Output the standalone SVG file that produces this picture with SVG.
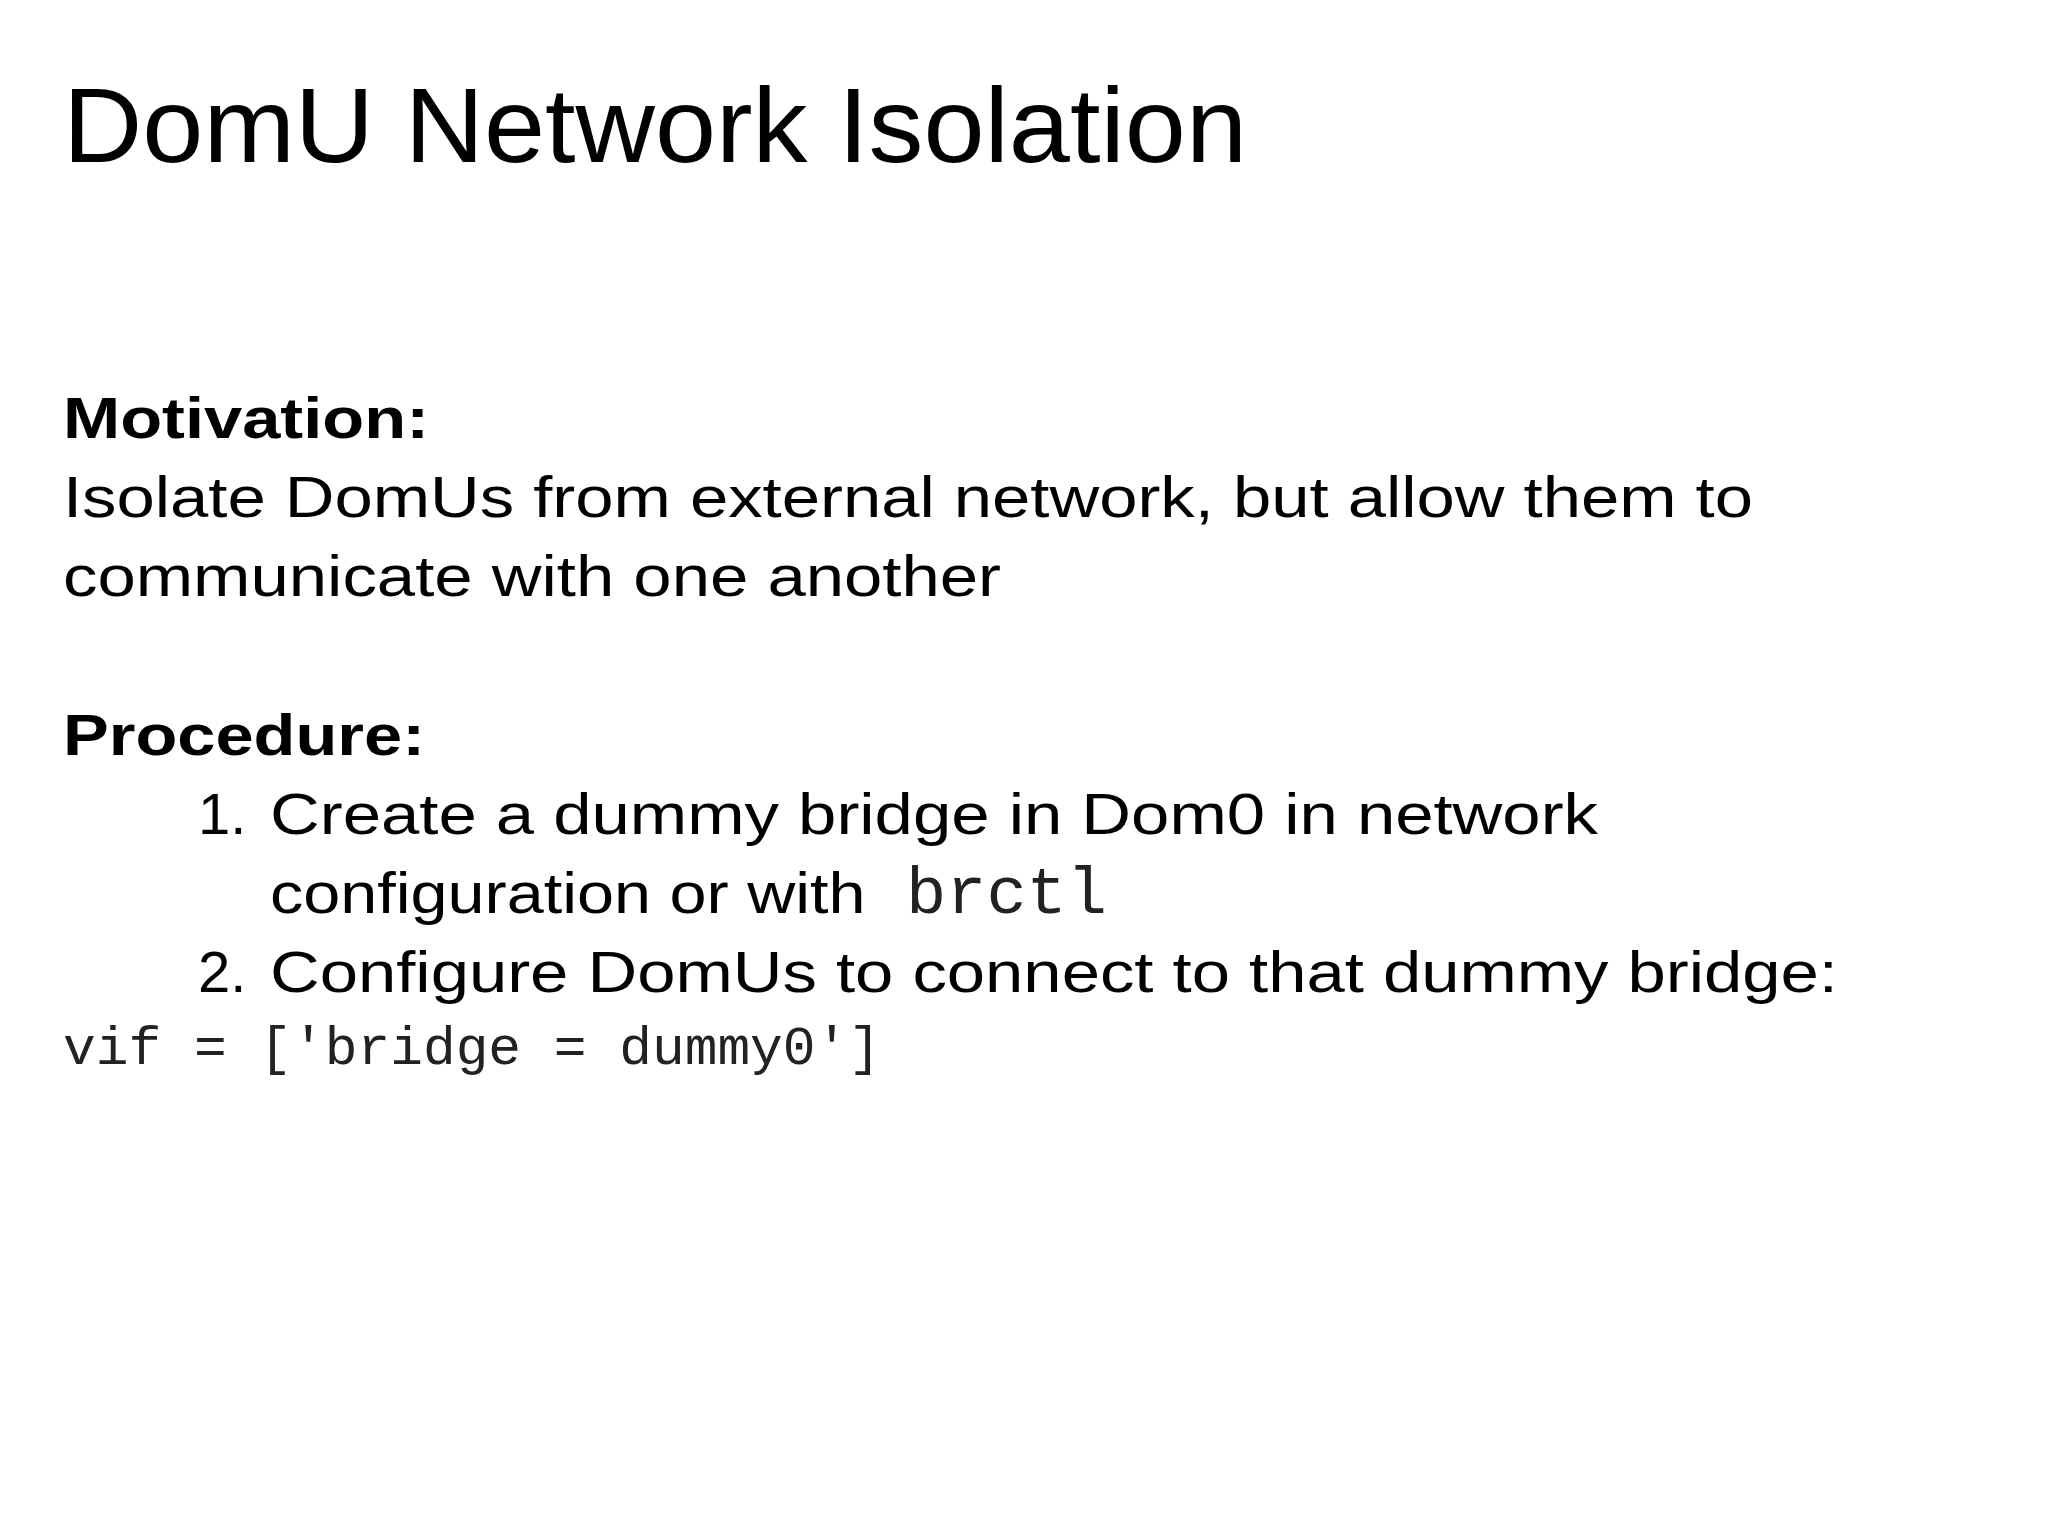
<svg xmlns="http://www.w3.org/2000/svg" width="2048" height="1536" viewBox="0 0 2048 1536">
<style>
.s{font-family:"Liberation Sans",Arial,sans-serif;fill:#000}
.m{font-family:"Liberation Mono","Courier New",monospace;fill:#222}
.b{font-size:58px}
</style>
<rect width="2048" height="1536" fill="#fff"/>
<g id="title"><text class="s" x="63" y="162" font-size="106" textLength="1184" lengthAdjust="spacingAndGlyphs">DomU Network Isolation</text></g>
<g id="body">
<text class="s b" x="63" y="438" font-weight="bold" textLength="366" lengthAdjust="spacingAndGlyphs">Motivation:</text>
<text class="s b" x="63" y="517" textLength="1690" lengthAdjust="spacingAndGlyphs">Isolate DomUs from external network, but allow them to</text>
<text class="s b" x="63" y="596" textLength="938" lengthAdjust="spacingAndGlyphs">communicate with one another</text>
<text class="s b" x="63" y="755" font-weight="bold" textLength="362" lengthAdjust="spacingAndGlyphs">Procedure:</text>
<text class="s b" x="198" y="834">1.</text>
<text class="s b" x="270" y="834" textLength="1328" lengthAdjust="spacingAndGlyphs">Create a dummy bridge in Dom0 in network</text>
<text class="s b" x="270" y="913"><tspan textLength="614" lengthAdjust="spacingAndGlyphs">configuration or with </tspan><tspan class="m" x="906" font-size="67" fill="#222">brctl</tspan></text>
<text class="s b" x="198" y="992">2.</text>
<text class="s b" x="270" y="992" textLength="1568" lengthAdjust="spacingAndGlyphs">Configure DomUs to connect to that dummy bridge:</text>
<text class="m" x="63" y="1064" font-size="54" textLength="818" lengthAdjust="spacingAndGlyphs">vif = ['bridge = dummy0']</text>
</g>
</svg>
